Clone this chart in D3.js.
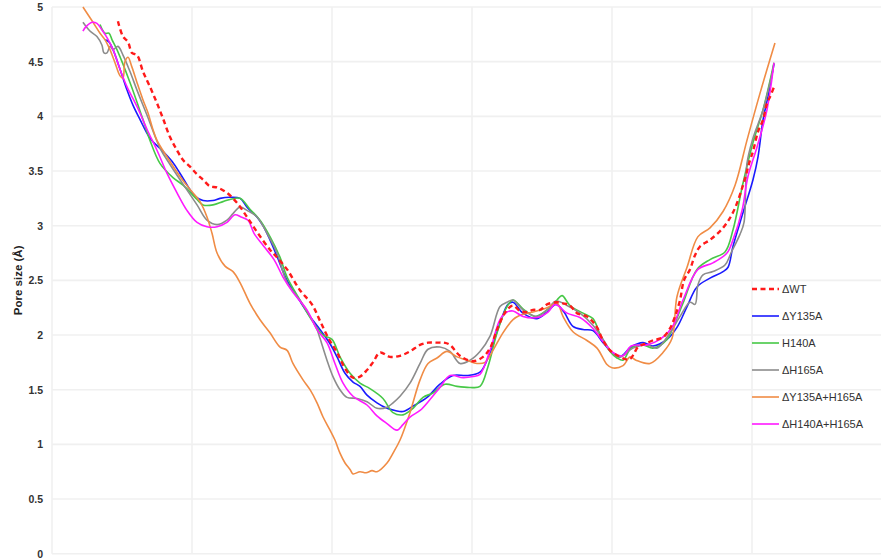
<!DOCTYPE html>
<html>
<head>
<meta charset="utf-8">
<script src="https://cdn.jsdelivr.net/npm/d3@7/dist/d3.min.js"></script>
<style>
  html, body { margin: 0; padding: 0; background: #fff; }
  svg { display: block; font-family: "Liberation Sans", Arial, sans-serif; }
</style>
</head>
<body>
<svg id="chart" width="881" height="560"></svg>
<script>
// Pore radius profiles along the channel axis, one [position, pore size] list per construct.
const seriesNames = ["\u0394WT", "\u0394Y135A", "H140A", "\u0394H165A", "\u0394Y135A+H165A", "\u0394H140A+H165A"];

const wt = [
  [4.71,4.87],[5.07,4.73],[5.43,4.68],[5.71,4.58],[6.07,4.56],[6.5,4.41],[7.0,4.27],[7.5,4.12],[7.93,3.98],
  [8.43,3.81],[8.93,3.69],[9.36,3.60],[9.86,3.54],[10.36,3.47],[10.79,3.42],[11.29,3.36],[11.79,3.35],
  [12.5,3.30],[13.21,3.21],[13.93,3.08],[14.71,2.93],[15.57,2.78],[16.0,2.72],[16.79,2.60],[17.71,2.41],
  [18.57,2.28],[19.14,2.13],[19.71,1.98],[20.36,1.84],[21.0,1.68],[21.5,1.61],[22.0,1.62],[22.5,1.68],
  [22.93,1.75],[23.43,1.84],[24.14,1.80],[24.86,1.81],[25.57,1.85],[26.29,1.91],[26.86,1.93],[27.5,1.93],
  [28.0,1.93],[28.43,1.91],[29.14,1.81],[30.07,1.76],[30.79,1.80],[31.29,1.88],[31.79,2.05],[32.21,2.17],
  [32.5,2.23],[32.93,2.27],[33.43,2.22],[33.93,2.21],[34.36,2.23],[34.86,2.23],[35.36,2.28],[36.07,2.30],
  [36.5,2.29],[37.0,2.27],[37.5,2.20],[38.21,2.17],[38.64,2.12],[38.93,2.07],[39.36,1.95],[39.86,1.86],
  [40.29,1.82],[40.93,1.78],[41.29,1.78],[41.57,1.83],[41.86,1.89],[42.36,1.92],[42.93,1.95],[43.64,1.98],
  [44.14,2.06],[44.5,2.17],[44.86,2.32],[45.14,2.50],[45.57,2.60],[45.93,2.73],[46.29,2.81],[47.0,2.87],
  [47.93,2.98],[48.64,3.12],[49.36,3.37],[49.86,3.60],[50.07,3.68],[50.43,3.86],[50.79,3.97],[51.07,4.12],
  [51.29,4.18],[51.64,4.29]
];

const y135a = [
  [3.79,4.70],[4.07,4.68],[4.36,4.61],[4.86,4.43],[5.36,4.24],[5.79,4.10],[6.29,3.97],[7.0,3.80],[7.93,3.68],
  [8.57,3.59],[9.14,3.48],[9.71,3.36],[10.21,3.27],[10.79,3.23],[11.5,3.23],[12.0,3.25],[12.71,3.26],
  [13.43,3.25],[13.93,3.17],[14.64,3.08],[15.07,3.00],[15.57,2.87],[16.07,2.72],[16.79,2.50],[17.71,2.31],
  [18.43,2.17],[19.14,2.05],[19.86,1.92],[20.36,1.80],[20.93,1.65],[21.5,1.57],[22.0,1.53],[22.5,1.45],
  [23.21,1.38],[23.93,1.33],[24.5,1.31],[25.07,1.30],[25.79,1.35],[26.79,1.43],[27.71,1.55],[28.64,1.63],
  [29.64,1.63],[30.57,1.66],[31.29,1.84],[32.0,2.11],[32.57,2.28],[32.93,2.30],[33.64,2.20],[34.64,2.15],
  [35.36,2.21],[36.0,2.28],[36.57,2.21],[37.21,2.08],[37.93,2.05],[38.64,2.04],[39.36,1.93],[40.07,1.83],
  [40.57,1.80],[41.36,1.89],[42.21,1.93],[42.93,1.90],[43.93,1.96],[44.64,2.07],[45.36,2.26],[46.07,2.44],
  [47.0,2.52],[47.93,2.58],[48.29,2.62],[48.64,2.81],[49.36,3.12],[50.07,3.42],[50.43,3.63],[50.79,3.97],
  [51.14,4.18],[51.57,4.48]
];

const h140a = [
  [3.43,4.84],[3.79,4.76],[4.07,4.76],[4.29,4.70],[4.64,4.61],[5.57,4.31],[6.5,3.97],[7.0,3.78],[7.71,3.57],
  [8.64,3.44],[9.36,3.37],[10.36,3.24],[10.79,3.19],[11.5,3.19],[12.21,3.22],[12.71,3.24],[13.43,3.25],
  [14.14,3.15],[14.86,3.05],[15.57,2.90],[16.29,2.71],[16.79,2.53],[17.71,2.32],[18.64,2.12],[19.36,2.00],
  [20.0,1.96],[20.57,1.80],[21.29,1.65],[22.0,1.56],[22.71,1.51],[23.64,1.42],[24.36,1.29],[25.07,1.27],
  [25.79,1.33],[26.5,1.43],[27.21,1.47],[28.07,1.55],[28.93,1.53],[29.86,1.52],[30.57,1.53],[31.14,1.71],
  [31.79,2.02],[32.5,2.26],[32.93,2.32],[33.64,2.24],[34.5,2.17],[35.36,2.23],[36.07,2.32],[36.43,2.36],
  [37.0,2.27],[37.93,2.20],[38.64,2.15],[39.14,2.01],[39.86,1.85],[40.36,1.79],[40.79,1.77],[41.36,1.88],
  [42.21,1.91],[42.93,1.88],[43.93,1.96],[44.36,2.07],[45.07,2.29],[46.07,2.60],[47.0,2.69],[48.07,2.76],
  [48.64,2.96],[49.36,3.39],[50.07,3.76],[50.79,4.06],[51.57,4.49]
];

const h165a = [
  [2.21,4.86],[2.71,4.78],[3.21,4.73],[3.57,4.65],[3.71,4.58],[3.93,4.58],[4.14,4.64],[4.36,4.61],[4.71,4.64],
  [5.07,4.56],[5.57,4.41],[6.07,4.24],[6.79,4.01],[7.71,3.71],[8.43,3.56],[9.36,3.38],[10.36,3.19],[11.07,3.05],
  [11.79,3.01],[12.5,3.05],[12.93,3.11],[13.43,3.17],[13.93,3.14],[14.64,3.08],[15.36,2.93],[16.07,2.75],
  [16.79,2.48],[17.71,2.32],[18.43,2.17],[18.93,2.05],[19.14,1.97],[19.64,1.77],[20.07,1.62],[20.57,1.50],
  [21.07,1.43],[21.79,1.42],[22.5,1.39],[23.21,1.33],[23.93,1.34],[24.36,1.38],[24.86,1.44],[25.57,1.56],
  [26.29,1.74],[26.86,1.87],[27.71,1.89],[28.43,1.85],[29.14,1.74],[29.86,1.77],[30.57,1.85],[31.29,1.99],
  [32.0,2.26],[32.5,2.30],[32.93,2.32],[33.64,2.23],[34.64,2.17],[35.36,2.23],[36.0,2.31],[36.79,2.27],
  [37.71,2.20],[38.64,2.09],[39.36,1.96],[40.07,1.83],[40.57,1.80],[41.5,1.88],[42.5,1.91],[43.21,1.88],
  [44.14,2.02],[44.86,2.17],[45.57,2.30],[45.93,2.28],[46.14,2.46],[46.5,2.55],[47.21,2.58],[48.07,2.64],
  [48.5,2.75],[49.14,2.92],[49.43,3.03],[49.64,3.57],[50.07,3.80],[50.79,4.06],[51.5,4.43]
];

const y135aH165a = [
  [2.21,5.00],[2.93,4.86],[3.43,4.76],[3.79,4.70],[4.14,4.61],[4.5,4.49],[4.86,4.37],[5.07,4.35],[5.21,4.50],
  [5.43,4.54],[5.71,4.45],[6.07,4.31],[6.5,4.15],[6.86,4.03],[7.21,3.88],[7.5,3.78],[8.21,3.63],[9.14,3.45],
  [10.0,3.31],[10.57,3.22],[11.07,3.08],[11.43,2.93],[11.79,2.75],[12.36,2.63],[12.93,2.58],[13.43,2.48],
  [14.14,2.29],[14.86,2.14],[15.57,2.02],[16.29,1.89],[16.79,1.86],[17.21,1.74],[17.93,1.59],[18.43,1.50],
  [18.93,1.38],[19.36,1.25],[19.86,1.13],[20.21,1.04],[20.57,0.92],[20.93,0.83],[21.29,0.77],[21.5,0.73],
  [22.0,0.75],[22.43,0.74],[22.86,0.76],[23.21,0.75],[23.93,0.83],[24.36,0.92],[24.86,1.04],[25.57,1.29],
  [26.29,1.59],[26.86,1.74],[27.5,1.79],[28.21,1.85],[28.93,1.80],[29.64,1.77],[30.36,1.74],[30.93,1.75],
  [31.5,1.86],[32.21,2.02],[32.93,2.14],[33.43,2.18],[34.36,2.21],[35.36,2.25],[36.07,2.29],[36.5,2.17],
  [37.21,2.03],[38.21,1.95],[38.93,1.88],[39.64,1.73],[40.0,1.70],[40.79,1.72],[41.29,1.80],[41.71,1.77],
  [42.71,1.74],[43.64,1.84],[44.29,1.97],[44.64,2.35],[45.36,2.62],[46.14,2.90],[47.0,2.98],[47.93,3.13],
  [48.79,3.37],[49.64,3.78],[50.57,4.21],[51.64,4.67]
];

const h140aH165a = [
  [2.21,4.78],[2.43,4.82],[2.86,4.86],[3.21,4.85],[3.57,4.79],[3.93,4.72],[4.36,4.61],[4.86,4.43],[5.36,4.27],
  [6.07,4.09],[6.79,3.88],[7.5,3.69],[8.21,3.48],[8.93,3.30],[9.64,3.14],[10.36,3.03],[11.07,2.99],[11.79,2.99],
  [12.5,3.03],[13.07,3.10],[13.5,3.08],[14.0,3.05],[14.43,2.93],[15.14,2.81],[15.86,2.69],[16.5,2.53],
  [17.21,2.39],[18.21,2.23],[18.93,2.05],[19.64,1.93],[20.21,1.74],[20.79,1.56],[21.5,1.44],[22.5,1.36],
  [23.21,1.26],[23.93,1.19],[24.64,1.13],[25.07,1.18],[25.57,1.25],[26.29,1.31],[27.0,1.41],[27.71,1.52],
  [28.43,1.63],[29.36,1.61],[30.07,1.62],[30.57,1.64],[31.29,1.86],[32.0,2.14],[32.5,2.21],[32.93,2.22],
  [33.64,2.17],[34.64,2.16],[35.43,2.21],[35.93,2.28],[36.79,2.20],[37.71,2.16],[38.64,2.06],[39.36,1.94],
  [40.07,1.84],[40.79,1.81],[41.36,1.90],[42.5,1.91],[43.43,1.96],[44.29,2.07],[45.07,2.32],[46.14,2.60],
  [47.21,2.66],[48.21,2.75],[48.64,2.87],[49.29,3.14],[49.71,3.45],[50.36,3.72],[51.07,4.06],[51.57,4.49]
];

const seriesData = [wt, y135a, h140a, h165a, y135aH165a, h140aH165a];
const yTickValues = [0, 0.5, 1, 1.5, 2, 2.5, 3, 3.5, 4, 4.5, 5];
const xGridValues = [0, 10, 20, 30, 40, 50, 60];
const yTitle = "Pore size (\u00C5)";

// Line styling per construct
const styles = [
  { color: "#ff1a1a", width: 2.4, dash: "5,3.5" },
  { color: "#1a1aff", width: 1.6, dash: null },
  { color: "#47c847", width: 1.6, dash: null },
  { color: "#8c8c8c", width: 1.6, dash: null },
  { color: "#f08c45", width: 1.6, dash: null },
  { color: "#ff1aff", width: 1.6, dash: null }
];

const svg = d3.select("#chart");
const plot = { left: 52, top: 7, bottom: 553.7, right: 892 };

const x = d3.scaleLinear().domain([0, 60]).range([plot.left, plot.right]);
const y = d3.scaleLinear().domain([0, 5]).range([plot.bottom, plot.top]);

// Gridlines
const grid = svg.append("g").attr("stroke", "#f0f0f0").attr("stroke-width", 1.6);
grid.selectAll("line.h").data(yTickValues).join("line")
  .attr("x1", plot.left).attr("x2", plot.right)
  .attr("y1", d => y(d)).attr("y2", d => y(d));
grid.selectAll("line.v").data(xGridValues).join("line")
  .attr("x1", d => x(d)).attr("x2", d => x(d))
  .attr("y1", plot.top).attr("y2", plot.bottom);

// Y axis labels
const yAxis = d3.axisLeft(y).tickValues(yTickValues).tickSize(0).tickPadding(9)
  .tickFormat(d => String(d));
svg.append("g").attr("transform", `translate(${plot.left},0)`).call(yAxis)
  .call(g => g.select(".domain").remove())
  .call(g => g.selectAll("text")
    .attr("font-family", "'Liberation Sans', Arial, sans-serif")
    .attr("font-size", 10.5).attr("font-weight", "bold").attr("fill", "#333"));

svg.append("text")
  .attr("transform", `translate(22,${(plot.top + plot.bottom) / 2}) rotate(-90)`)
  .attr("text-anchor", "middle")
  .attr("font-size", 11.5).attr("font-weight", "bold").attr("fill", "#222")
  .text(yTitle);

// Profiles
svg.append("clipPath").attr("id", "plotClip").append("rect")
  .attr("x", plot.left).attr("y", plot.top - 1)
  .attr("width", plot.right - plot.left).attr("height", plot.bottom - plot.top + 1);

const line = d3.line().x(d => x(d[0])).y(d => y(d[1])).curve(d3.curveCatmullRom.alpha(0.5));
const drawOrder = [1, 2, 3, 4, 5, 0];
const lines = svg.append("g").attr("clip-path", "url(#plotClip)");
drawOrder.forEach(i => {
  lines.append("path")
    .datum(seriesData[i])
    .attr("fill", "none")
    .attr("stroke", styles[i].color)
    .attr("stroke-width", styles[i].width)
    .attr("stroke-dasharray", styles[i].dash)
    .attr("stroke-linejoin", "round")
    .attr("d", line);
});

// Legend
const legend = svg.append("g").attr("transform", "translate(752,289)");
seriesNames.forEach((name, i) => {
  const row = legend.append("g").attr("transform", `translate(0,${i * 27})`);
  row.append("line").attr("x1", 0).attr("x2", 27).attr("y1", 0).attr("y2", 0)
    .attr("stroke", styles[i].color).attr("stroke-width", styles[i].width)
    .attr("stroke-dasharray", styles[i].dash);
  row.append("text").attr("x", 30).attr("y", 4)
    .attr("font-size", 11).attr("fill", "#333").text(name);
});
</script>
</body>
</html>
